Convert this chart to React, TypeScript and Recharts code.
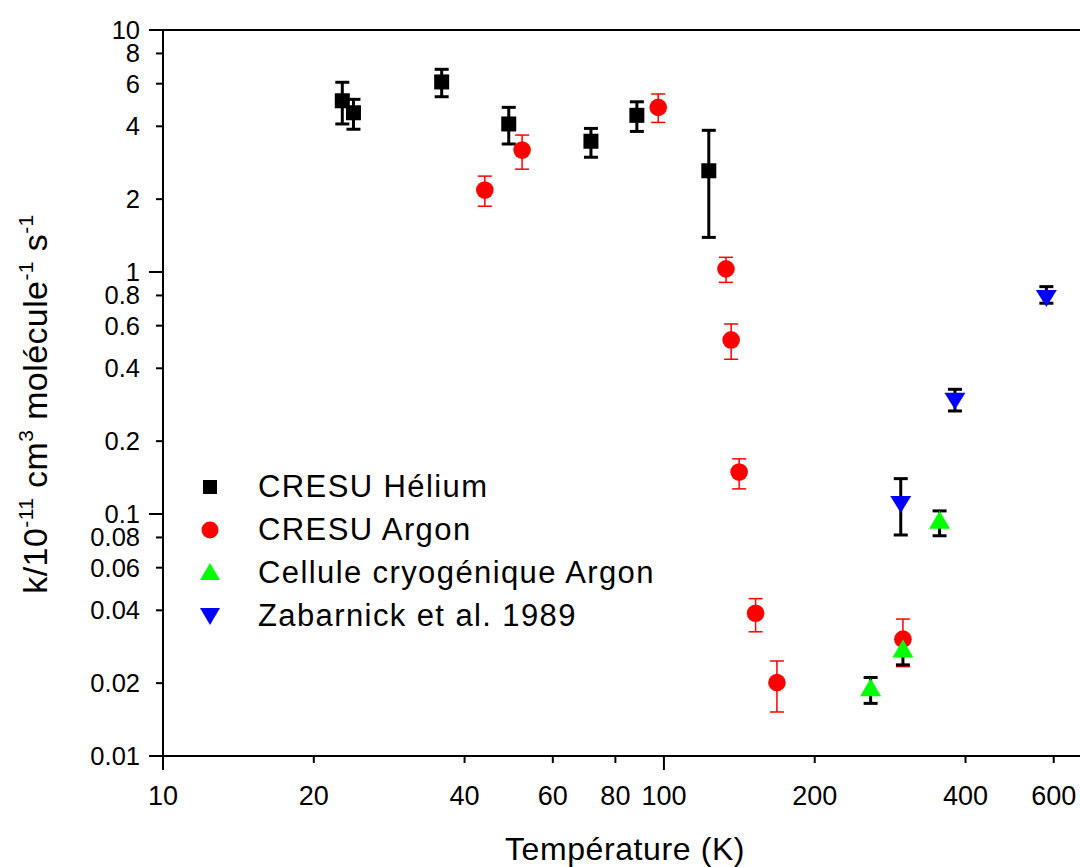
import React from "react";
import { ScatterChart, Scatter, XAxis, YAxis, ErrorBar, ReferenceLine, Legend } from "recharts";

// Température (K) et k (10^-11 cm3 molécule-1 s-1)
const heliumT = [22.8, 24.0, 36.0, 49.0, 71.5, 88.3, 122.9];
const heliumK = [5.1, 4.55, 6.1, 4.09, 3.47, 4.44, 2.62];
const heliumHi = [6.08, 5.17, 6.88, 4.79, 3.92, 5.05, 3.85];
const heliumLo = [4.09, 3.89, 5.3, 3.38, 2.98, 3.81, 1.39];

const argonT = [43.9, 52.1, 97.4, 133, 136.2, 141.3, 152.4, 168.1, 300];
const argonK = [2.18, 3.19, 4.79, 1.03, 0.524, 0.149, 0.0389, 0.0201, 0.0304];
const argonHi = [2.49, 3.68, 5.44, 1.15, 0.61, 0.169, 0.0447, 0.0247, 0.0368];
const argonLo = [1.87, 2.66, 4.15, 0.906, 0.436, 0.127, 0.0326, 0.0152, 0.0234];

const cryoT = [258.6, 300, 355];
const cryoK = [0.0187, 0.027, 0.092];
const cryoHi = [0.0211, 0.0304, 0.103];
const cryoLo = [0.0165, 0.0238, 0.0813];

const zabT = [297, 381, 580];
const zabK = [0.11, 0.294, 0.78];
const zabHi = [0.14, 0.3275, 0.87];
const zabLo = [0.0819, 0.2665, 0.743];

const xTicks = [10, 20, 40, 60, 80, 100, 200, 400, 600];
const yTicks = [0.01, 0.02, 0.04, 0.06, 0.08, 0.1, 0.2, 0.4, 0.6, 0.8, 1, 2, 4, 6, 8, 10];
const majorTicks = [0.01, 0.1, 1, 10, 100];

const seriesNames = ["CRESU Hélium", "CRESU Argon", "Cellule cryogénique Argon", "Zabarnick et al. 1989"];

const FONT = '"Liberation Sans", Arial, sans-serif';

const toRows = (t: number[], k: number[], hi: number[], lo: number[]) =>
  t.map((v, i) => ({ t: v, k: k[i], err: [k[i] - lo[i], hi[i] - k[i]] }));

const heliumData = toRows(heliumT, heliumK, heliumHi, heliumLo);
const argonData = toRows(argonT, argonK, argonHi, argonLo);
const cryoData = toRows(cryoT, cryoK, cryoHi, cryoLo);
const zabData = toRows(zabT, zabK, zabHi, zabLo);

// formes des symboles
const Square = (p: any) => <rect x={p.cx - 7.5} y={p.cy - 7.5} width={15} height={15} fill="#000" />;
const Dot = (p: any) => <circle cx={p.cx} cy={p.cy} r={8.8} fill="#ff0000" />;
const TriUp = (p: any) => (
  <polygon points={`${p.cx},${p.cy - 12} ${p.cx + 10.5},${p.cy + 6} ${p.cx - 10.5},${p.cy + 6}`} fill="#00ff00" />
);
const TriDown = (p: any) => (
  <polygon points={`${p.cx - 10.5},${p.cy - 8} ${p.cx + 10.5},${p.cy - 8} ${p.cx},${p.cy + 9}`} fill="#0000ff" />
);

const XTick = (props: any) => {
  const { x, y, payload } = props;
  const len = majorTicks.includes(payload.value) ? 14 : 7;
  return (
    <g>
      <line x1={x} y1={y} x2={x} y2={y + len} stroke="#000" strokeWidth={2} />
      <text x={x} y={y + 49} textAnchor="middle" fontSize={27} fontFamily={FONT} fill="#000">
        {payload.value}
      </text>
    </g>
  );
};

const YTick = (props: any) => {
  const { x, y, payload } = props;
  const len = majorTicks.includes(payload.value) ? 14 : 7;
  return (
    <g>
      <line x1={x} y1={y} x2={x - len} y2={y} stroke="#000" strokeWidth={2} />
      <text x={x - 23} y={y + 9} textAnchor="end" fontSize={25.5} fontFamily={FONT} fill="#000">
        {String(payload.value)}
      </text>
    </g>
  );
};

const YTitle = () => (
  <text
    transform="translate(47,404) rotate(-90)"
    textAnchor="middle"
    fontSize={34}
    fontFamily={FONT}
    fill="#000"
    letterSpacing={0.4}
  >
    k/10
    <tspan dy={-14} fontSize={21}>-11</tspan>
    <tspan dy={14}> cm</tspan>
    <tspan dy={-14} fontSize={21}>3</tspan>
    <tspan dy={14}> molécule</tspan>
    <tspan dy={-14} fontSize={21}>-1</tspan>
    <tspan dy={14}> s</tspan>
    <tspan dy={-14} fontSize={21}>-1</tspan>
  </text>
);

const XTitle = () => (
  <text x={625} y={860} textAnchor="middle" fontSize={32} fontFamily={FONT} fill="#000" letterSpacing={0.6}>
    Température (K)
  </text>
);

const legendIcons = [
  <rect x={8} y={8} width={14} height={14} fill="#000" />,
  <circle cx={15} cy={15} r={8.5} fill="#ff0000" />,
  <polygon points="15,5 25,22 5,22" fill="#00ff00" />,
  <polygon points="5,7 25,7 15,24" fill="#0000ff" />,
];

const LegendBox = () => (
  <div style={{ fontFamily: FONT, fontSize: 31, color: "#000" }}>
    {seriesNames.map((name, i) => (
      <div key={name} style={{ display: "flex", alignItems: "center", height: 43, whiteSpace: "nowrap" }}>
        <svg width={30} height={30} style={{ display: "block" }}>
          {legendIcons[i]}
        </svg>
        <span style={{ marginLeft: 33, letterSpacing: 1.4 }}>{name}</span>
      </div>
    ))}
  </div>
);

export default function App() {
  return (
    <div style={{ position: "absolute", left: 0, top: 0, width: 1080, height: 867, background: "#fff" }}>
      <ScatterChart width={1080} height={867} margin={{ top: 30, right: 0, bottom: 0, left: 0 }}>
        <XAxis
          type="number"
          dataKey="t"
          scale="log"
          domain={[10, 677]}
          allowDataOverflow
          ticks={xTicks}
          interval={0}
          height={111}
          tickSize={0}
          tickMargin={0}
          tickLine={false}
          tick={(p: any) => <XTick {...p} />}
          axisLine={{ stroke: "#000", strokeWidth: 2 }}
          label={<XTitle />}
        />
        <YAxis
          type="number"
          dataKey="k"
          scale="log"
          domain={[0.01, 10]}
          allowDataOverflow
          ticks={yTicks}
          interval={0}
          width={163}
          tickSize={0}
          tickMargin={0}
          tickLine={false}
          tick={(p: any) => <YTick {...p} />}
          axisLine={{ stroke: "#000", strokeWidth: 2 }}
          label={<YTitle />}
        />
        <ReferenceLine y={10} stroke="#000" strokeWidth={2} />
        <Scatter name={seriesNames[0]} data={heliumData} shape={Square} isAnimationActive={false}>
          <ErrorBar dataKey="err" direction="y" stroke="#000" strokeWidth={3} width={7} />
        </Scatter>
        <Scatter name={seriesNames[1]} data={argonData} shape={Dot} isAnimationActive={false}>
          <ErrorBar dataKey="err" direction="y" stroke="#ff0000" strokeWidth={1.5} width={7} />
        </Scatter>
        <Scatter name={seriesNames[2]} data={cryoData} shape={TriUp} isAnimationActive={false}>
          <ErrorBar dataKey="err" direction="y" stroke="#000" strokeWidth={3} width={7} />
        </Scatter>
        <Scatter name={seriesNames[3]} data={zabData} shape={TriDown} isAnimationActive={false}>
          <ErrorBar dataKey="err" direction="y" stroke="#000" strokeWidth={3} width={7} />
        </Scatter>
        <Legend
          layout="vertical"
          align="center"
          verticalAlign="middle"
          wrapperStyle={{ left: 195, top: 465, width: 520 }}
          content={() => <LegendBox />}
        />
      </ScatterChart>
    </div>
  );
}
